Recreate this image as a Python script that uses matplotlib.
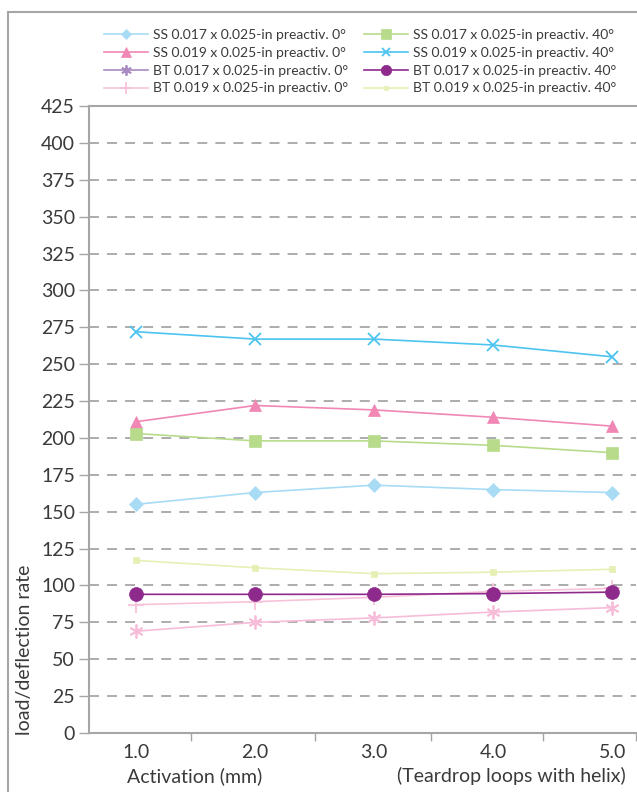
import matplotlib.pyplot as plt
from matplotlib.lines import Line2D

plt.rcParams['font.family'] = ['Lato', 'DejaVu Sans']

activation = [1.0, 2.0, 3.0, 4.0, 5.0]
tick_labels = ['1.0', '2.0', '3.0', '4.0', '5.0']

ss17_0 = [155, 163, 168, 165, 163]
ss19_0 = [211, 222, 219, 214, 208]
bt17_0 = [69, 75, 78, 82, 85]
bt19_0 = [87, 89, 92, 96, 98]
ss17_40 = [203, 198, 198, 195, 190]
ss19_40 = [272, 267, 267, 263, 255]
bt17_40 = [94, 94, 94, 94.5, 95.5]
bt19_40 = [117, 112, 108, 109, 111]

names = ['SS 0.017 x 0.025-in preactiv. 0\u00b0',
         'SS 0.019 x 0.025-in preactiv. 0\u00b0',
         'BT 0.017 x 0.025-in preactiv. 0\u00b0',
         'BT 0.019 x 0.025-in preactiv. 0\u00b0',
         'SS 0.017 x 0.025-in preactiv. 40\u00b0',
         'SS 0.019 x 0.025-in preactiv. 40\u00b0',
         'BT 0.017 x 0.025-in preactiv. 40\u00b0',
         'BT 0.019 x 0.025-in preactiv. 40\u00b0']

# (values, line colour, marker, marker size, legend colour)
series = [
    (ss17_0, '#a8dcf5', 'D', 7, '#a8dcf5'),
    (ss19_0, '#f087b4', '^', 9, '#f087b4'),
    (bt17_0, '#f7bcd8', (6, 2, 0), 10, '#a98bc4'),
    (bt19_0, '#f8c3da', '+', 12, '#f8c3da'),
    (ss17_40, '#b7db8a', 's', 9, '#b7db8a'),
    (ss19_40, '#4cc4ef', 'x', 8, '#4cc4ef'),
    (bt17_40, '#8e2a8c', 'o', 10, '#8e2a8c'),
    (bt19_40, '#e6efb4', 's', 4, '#e6efb4'),
]

fig = plt.figure(figsize=(6.37, 7.92), dpi=100)
ax = fig.add_axes([89 / 637, 1 - 733 / 792, 547 / 637, 627 / 792])

grey = '#a6a6a6'
txt = '#3a3a3a'
for y in range(25, 425, 25):
    ax.axhline(y, color=grey, lw=1.3, ls=(0, (5.5, 4.5)), zorder=0)

handles = []
for (vals, col, mk, ms, lcol), name in zip(series, names):
    mew = 1.3 if mk in ('+', 'x') or isinstance(mk, tuple) else 0.5
    ax.plot(activation, vals, color=col, lw=1.2, marker=mk, markersize=ms,
            markeredgewidth=mew, markeredgecolor=col, markerfacecolor=col)
    handles.append(Line2D([], [], color=lcol, lw=1.2, marker=mk,
                          markersize=ms * 0.75, markeredgecolor=lcol,
                          markerfacecolor=lcol, markeredgewidth=mew,
                          label=name))

ax.set_xlim(0.605, 5.2)
ax.set_ylim(0, 425)
ax.set_yticks(range(0, 426, 25))
ax.tick_params(axis='y', length=7, width=1, color=grey, labelsize=14,
               labelcolor=txt, pad=3)
ax.set_xticks(activation)
ax.set_xticklabels(tick_labels)
ax.tick_params(axis='x', length=0, labelsize=14, labelcolor=txt, pad=8)
ax.set_xticks([1.46, 2.5, 3.48, 4.42, 5.2], minor=True)
ax.tick_params(axis='x', which='minor', length=6, width=1, color=grey)

for s in ('left', 'bottom', 'top'):
    ax.spines[s].set_color(grey)
    ax.spines[s].set_linewidth(1.5)
ax.spines['right'].set_visible(False)

fig.text(127 / 637, 1 - 776 / 792, 'Activation (mm)', fontsize=14,
         color=txt, ha='left', va='center')
fig.text(626 / 637, 1 - 776 / 792, '(Teardrop loops with helix)', fontsize=14,
         color=txt, ha='right', va='center')
fig.text(25 / 637, 1 - 650 / 792, 'load/deflection rate', fontsize=14,
         color=txt, rotation=90, ha='center', va='center')

fig.legend(handles=handles, ncol=2, loc='upper left',
           bbox_to_anchor=(97 / 637, 1 - 22 / 792), frameon=False,
           fontsize=10, handlelength=3.2, handletextpad=0.35,
           columnspacing=1.1, labelspacing=0.42, borderpad=0,
           labelcolor=txt)

# outer frame lines on left and top
fig.add_artist(Line2D([8 / 637, 8 / 637], [0, 1 - 12 / 792],
                      transform=fig.transFigure, color=grey, lw=1.5))
fig.add_artist(Line2D([8 / 637, 1], [1 - 12 / 792, 1 - 12 / 792],
                      transform=fig.transFigure, color=grey, lw=1.5))

fig.savefig('out.png', dpi=100)
